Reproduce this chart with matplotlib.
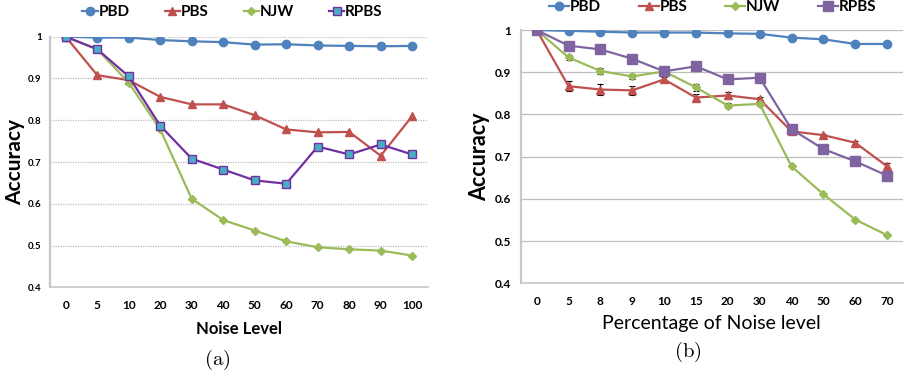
import matplotlib.pyplot as plt

plt.rcParams['font.family'] = ['Lato', 'DejaVu Sans']
plt.rcParams['mathtext.fontset'] = 'cm'

SERIES = ['PBD', 'PBS', 'NJW', 'RPBS']

# panel (a)
noiseA = ['0', '5', '10', '20', '30', '40', '50', '60', '70', '80', '90', '100']
pbdA = [1.0, 0.998, 0.998, 0.992, 0.989, 0.987, 0.981, 0.982, 0.979, 0.978, 0.977, 0.978]
pbsA = [1.0, 0.908, 0.896, 0.856, 0.838, 0.838, 0.812, 0.778, 0.771, 0.772, 0.715, 0.810]
njwA = [1.0, 0.970, 0.890, 0.778, 0.612, 0.561, 0.536, 0.510, 0.496, 0.491, 0.488, 0.476]
rpbsA = [1.0, 0.970, 0.905, 0.787, 0.708, 0.682, 0.656, 0.648, 0.737, 0.718, 0.742, 0.718]

# panel (b)
noiseB = ['0', '5', '8', '9', '10', '15', '20', '30', '40', '50', '60', '70']
pbdB = [1.0, 0.998, 0.996, 0.994, 0.994, 0.994, 0.992, 0.991, 0.982, 0.978, 0.967, 0.967]
pbsB = [1.0, 0.867, 0.859, 0.857, 0.883, 0.840, 0.845, 0.836, 0.760, 0.751, 0.733, 0.677]
njwB = [1.0, 0.935, 0.903, 0.890, 0.902, 0.864, 0.821, 0.825, 0.677, 0.611, 0.551, 0.514]
rpbsB = [1.0, 0.963, 0.954, 0.932, 0.902, 0.914, 0.883, 0.887, 0.765, 0.718, 0.689, 0.655]
pbsErrB = [0, 0.012, 0.012, 0.010, 0.005, 0.008, 0.008, 0.006, 0.003, 0.003, 0.003, 0.008]
njwErrB = [0, 0.005, 0.008, 0.006, 0.003, 0.008, 0.005, 0.006, 0.002, 0.002, 0.002, 0.002]

BLUE = '#4F81BD'
RED = '#C0504D'
GREEN = '#9BBB59'


def styleAxis(ax, labels, gridStyle, tickSize):
    ax.set_xlim(-0.5, len(labels) - 0.5)
    ax.set_ylim(0.4, 1.0)
    ax.set_yticks([0.4, 0.5, 0.6, 0.7, 0.8, 0.9, 1.0])
    ax.set_yticklabels(['0.4', '0.5', '0.6', '0.7', '0.8', '0.9', '1'])
    ax.set_xticks(range(len(labels)))
    ax.set_xticklabels(labels)
    for y in [0.5, 0.6, 0.7, 0.8, 0.9, 1.0]:
        ax.axhline(y, color='#BEBEBE', lw=0.9, ls=gridStyle, zorder=0)
    for s in ['top', 'right']:
        ax.spines[s].set_visible(False)
    ax.spines['left'].set_color('#C8C8C8')
    ax.spines['left'].set_linewidth(1.6)
    ax.spines['bottom'].set_color('#C8C8C8')
    ax.spines['bottom'].set_linewidth(1.2)
    ax.tick_params(length=0, labelsize=tickSize, pad=9)
    for t in ax.get_yticklabels() + ax.get_xticklabels():
        t.set_fontweight('bold')
    ax.tick_params(axis='y', pad=7)


fig = plt.figure(figsize=(9.05, 3.8), dpi=100)

# ---- (a)
ax = fig.add_axes([0.0552, 0.2439, 0.4177, 0.6595])
x = range(len(noiseA))
ax.plot(x, pbdA, color=BLUE, lw=1.6, marker='o', ms=6, label='PBD')
ax.plot(x, pbsA, color=RED, lw=1.6, marker='^', ms=6, label='PBS')
ax.plot(x, njwA, color=GREEN, lw=1.6, marker='D', ms=4, label='NJW')
ax.plot(x, rpbsA, color='#7030A0', lw=1.6, marker='s', ms=6, mfc='#4BACC6',
        mec='#7030A0', mew=1.0, label='RPBS')
styleAxis(ax, noiseA, (0, (1, 1)), 7)
ax.tick_params(axis='x', labelsize=8.5)
ax.tick_params(axis='y', pad=6)
ax.set_ylabel('Accuracy', fontsize=15, fontweight='bold')
ax.yaxis.set_label_coords(-0.066, 0.5)
ax.set_xlabel('Noise Level', fontsize=12, fontweight='bold', labelpad=7)
ax.legend(loc='center', bbox_to_anchor=(0.483, 1.099), ncol=4, frameon=False,
          prop={'weight': 'bold', 'size': 11}, handlelength=1.0, handletextpad=0.05,
          columnspacing=2.3, borderaxespad=0)
fig.text(0.24, 0.053, r'$\mathrm{(a)}$', fontsize=15, ha='center', va='center')

# ---- (b)
ax = fig.add_axes([0.5754, 0.2545, 0.4224, 0.6665])
x = range(len(noiseB))
ax.plot(x, pbdB, color=BLUE, lw=1.6, marker='o', ms=6, label='PBD')
ax.plot(x, pbsB, color=RED, lw=1.6, marker='^', ms=6, label='PBS')
ax.plot(x, njwB, color=GREEN, lw=1.6, marker='D', ms=4, label='NJW')
ax.plot(x, rpbsB, color='#8064A2', lw=1.6, marker='s', ms=6.5, label='RPBS')
ax.errorbar(x, pbsB, yerr=pbsErrB, fmt='none', ecolor='black', elinewidth=0.8,
            capsize=2.2, capthick=0.8, zorder=1.9)
ax.errorbar(x, njwB, yerr=njwErrB, fmt='none', ecolor='black', elinewidth=0.8,
            capsize=2.2, capthick=0.8, zorder=1.9)
styleAxis(ax, noiseB, '-', 8.5)
ax.set_ylabel('Accuracy', fontsize=15.5, fontweight='bold')
ax.yaxis.set_label_coords(-0.080, 0.5)
ax.set_xlabel('Percentage of Noise level', fontsize=14, labelpad=6)
ax.legend(loc='center', bbox_to_anchor=(0.502, 1.091), ncol=4, frameon=False,
          prop={'weight': 'bold', 'size': 11}, handlelength=1.3, handletextpad=0.05,
          columnspacing=2.5, borderaxespad=0)
fig.text(0.76, 0.074, r'$\mathrm{(b)}$', fontsize=15, ha='center', va='center')

fig.savefig('out.png', dpi=100)
